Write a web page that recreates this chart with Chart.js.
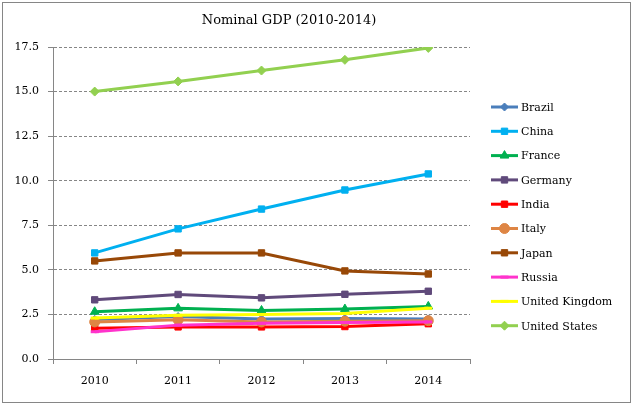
<!DOCTYPE html>
<html>
<head>
<meta charset="utf-8">
<script src="https://cdn.jsdelivr.net/npm/chart.js@4"></script>
<style>
  html, body { margin: 0; padding: 0; background: #fff; }
  #wrap { width: 633px; height: 405px; position: relative; }
</style>
</head>
<body>
<div id="wrap"><canvas id="gdpChart" width="633" height="405"></canvas></div>
<script>
const years = ['2010', '2011', '2012', '2013', '2014'];
const countries = ['Brazil', 'China', 'France', 'Germany', 'India', 'Italy', 'Japan', 'Russia', 'United Kingdom', 'United States'];

const brazil = [2.22, 2.38, 2.25, 2.27, 2.25];
const china = [5.95, 7.3, 8.41, 9.48, 10.38];
const france = [2.65, 2.84, 2.72, 2.8, 2.95];
const germany = [3.32, 3.62, 3.43, 3.63, 3.8];
const india = [1.72, 1.8, 1.8, 1.82, 1.98];
const italy = [2.08, 2.2, 2.08, 2.12, 2.15];
const japan = [5.5, 5.95, 5.95, 4.94, 4.77];
const russia = [1.53, 1.9, 2.0, 2.05, 2.08];
const uk = [2.3, 2.45, 2.5, 2.55, 2.85];
const us = [15.0, 15.57, 16.18, 16.78, 17.45];

const seriesValues = [brazil, china, france, germany, india, italy, japan, russia, uk, us];
const seriesColors = ['#4A7EBB', '#00B0F0', '#00B050', '#604A7B', '#FF0000', '#DE8544', '#984807', '#FF33CC', '#FFFF00', '#92D050'];
const seriesMarkers = ['rectRot', 'rect', 'triangle', 'rect', 'rect', 'circle', 'rect', 'line', 'line', 'rectRot'];
const markerSizes = [4, 4.5, 5, 4.5, 4.5, 5, 4.5, 4, 4, 4.5];

const yTicks = [0, 2.5, 5, 7.5, 10, 12.5, 15, 17.5];

const FONT = '"DejaVu Serif", "Liberation Serif", serif';
const GRAY = '#868686';

// legend + title + frame drawn by hand, Excel style
const decorPlugin = {
    id: 'decor',
    afterDraw(chart) {
        const ctx = chart.ctx;
        ctx.save();
        ctx.strokeStyle = GRAY;
        ctx.lineWidth = 1;
        ctx.strokeRect(2.5, 2.5, 628, 400);

        ctx.fillStyle = '#000';
        ctx.font = '13px ' + FONT;
        ctx.textAlign = 'center';
        ctx.textBaseline = 'middle';
        ctx.fillText('Nominal GDP (2010-2014)', 289, 21);

        ctx.font = '11px ' + FONT;
        ctx.textAlign = 'left';
        chart.data.datasets.forEach((ds, i) => {
            const y = 107 + i * 24.3;
            ctx.strokeStyle = ds.borderColor;
            ctx.lineWidth = 3;
            ctx.beginPath();
            ctx.moveTo(491, y);
            ctx.lineTo(518, y);
            ctx.stroke();
            ctx.fillStyle = ds.borderColor;
            ctx.strokeStyle = ds.borderColor;
            ctx.lineWidth = ds.pointStyle === 'line' ? 3 : 1;
            Chart.helpers.drawPoint(ctx, {
                pointStyle: ds.pointStyle,
                radius: ds.pointRadius,
                rotation: 0,
                borderWidth: ctx.lineWidth
            }, 504.5, y);
            ctx.fillStyle = '#000';
            ctx.fillText(ds.label, 521, y + 1);
        });
        ctx.restore();
    }
};

function makeDatasets() {
    return countries.map((name, i) => ({
        label: name,
        data: seriesValues[i],
        borderColor: seriesColors[i],
        backgroundColor: seriesColors[i],
        pointBackgroundColor: seriesColors[i],
        pointBorderColor: seriesColors[i],
        pointStyle: seriesMarkers[i],
        pointRadius: markerSizes[i],
        pointBorderWidth: seriesMarkers[i] === 'line' ? 3 : 1,
        borderWidth: 3,
        tension: 0,
        fill: false,
        order: -i
    }));
}

const ctx = document.getElementById('gdpChart').getContext('2d');
new Chart(ctx, {
    type: 'line',
    data: {
        labels: years,
        datasets: makeDatasets()
    },
    options: {
        responsive: false,
        animation: false,
        layout: { padding: { left: 0, right: 163, top: 47, bottom: 0 } },
        plugins: {
            legend: { display: false },
            title: { display: false },
            tooltip: { enabled: false }
        },
        scales: {
            x: {
                offset: true,
                grid: {
                    offset: true,
                    drawOnChartArea: false,
                    drawTicks: true,
                    tickLength: 5,
                    tickColor: GRAY
                },
                border: { color: GRAY, width: 1 },
                ticks: {
                    color: '#000',
                    padding: 11,
                    font: { family: FONT, size: 11 }
                },
                afterFit: (s) => { s.height = 46; }
            },
            y: {
                min: 0,
                max: 17.5,
                afterBuildTicks: (s) => { s.ticks = yTicks.map(v => ({ value: v })); },
                grid: {
                    color: GRAY,
                    lineWidth: 1,
                    drawTicks: true,
                    tickLength: 5,
                    tickColor: GRAY
                },
                border: { color: GRAY, width: 1, dash: [3, 2] },
                ticks: {
                    color: '#000',
                    padding: 9,
                    font: { family: FONT, size: 11 },
                    callback: (v) => Number(v).toFixed(1)
                },
                afterFit: (s) => { s.width = 53; }
            }
        }
    },
    plugins: [decorPlugin]
});
</script>
</body>
</html>
